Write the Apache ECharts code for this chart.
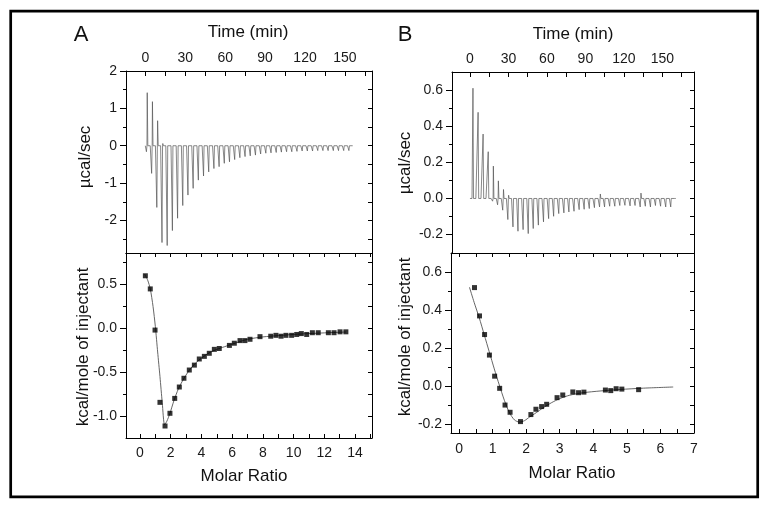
<!DOCTYPE html>
<html><head><meta charset="utf-8">
<script src="https://cdn.jsdelivr.net/npm/echarts@6/dist/echarts.min.js"></script>
<style>html,body{margin:0;padding:0;background:#fff}#c{width:768px;height:509px}</style>
</head><body><div id="c"></div>
<script>
// ---------- Panel A: raw thermogram (injection times in min, peak heights in µcal/sec) ----------
const injTimesA = [0.7, 4.6, 8.5, 12.4, 16.3, 20.2, 24.1, 28.0, 31.9, 35.8, 39.7, 43.6, 47.5, 51.4, 55.3, 59.2, 63.1, 67.0, 70.9, 74.8,
  78.7, 82.6, 86.5, 90.4, 94.3, 98.2, 102.1, 106.0, 109.9, 113.8, 117.7, 121.6, 125.5, 129.4, 133.3, 137.2, 141.1, 145.0, 148.9, 152.8];
const negPeaksA = [-0.16, -0.74, -1.65, -2.59, -2.67, -2.27, -1.94, -1.6, -1.32, -1.14, -0.92, -0.81, -0.70, -0.61, -0.56, -0.47, -0.43, -0.37, -0.32, -0.29,
  -0.27, -0.25, -0.22, -0.2, -0.19, -0.18, -0.17, -0.16, -0.16, -0.15, -0.14, -0.14, -0.14, -0.13, -0.13, -0.13, -0.13, -0.13, -0.13, -0.13];
const posPeaksA = [1.42, 1.18, 0.67, 0.06, 0, 0, 0, 0, 0, 0, 0, 0, 0, 0, 0, 0, 0, 0, 0, 0,
  0, 0, 0, 0, 0, 0, 0, 0, 0, 0, 0, 0, 0, 0, 0, 0, 0, 0, 0, 0];
const traceSpanA = [0, 156];

// ---------- Panel A: integrated heats ----------
const molarA = [0.35, 0.67, 0.98, 1.30, 1.63, 1.95, 2.26, 2.56, 2.86, 3.21, 3.54, 3.86, 4.19, 4.51, 4.84, 5.16, 5.82, 6.14, 6.51, 6.83,
  7.16, 7.81, 8.51, 8.85, 9.18, 9.50, 9.87, 10.2, 10.5, 10.85, 11.22, 11.6, 12.26, 12.63, 13.02, 13.4];
const heatA = [0.60, 0.45, -0.02, -0.845, -1.115, -0.97, -0.80, -0.67, -0.57, -0.476, -0.42, -0.35, -0.32, -0.285, -0.24, -0.23, -0.195, -0.17, -0.14, -0.14,
  -0.125, -0.095, -0.09, -0.08, -0.09, -0.08, -0.08, -0.07, -0.06, -0.07, -0.05, -0.05, -0.05, -0.05, -0.04, -0.04];
const fitAX = [0.3, 0.5, 0.67, 0.85, 1.0, 1.15, 1.3, 1.45, 1.6, 1.75, 1.95, 2.2, 2.5, 2.8, 3.2, 3.6, 4.0, 4.5, 5.0, 5.5, 6.0, 7.0, 8.0, 9.0, 10.0, 11.0, 12.0, 13.4];
const fitAY = [0.62, 0.55, 0.45, 0.25, 0.02, -0.27, -0.55, -0.85, -1.1, -1.06, -0.97, -0.83, -0.69, -0.59, -0.48, -0.40, -0.34, -0.28, -0.24, -0.21, -0.18, -0.125, -0.098, -0.083, -0.07, -0.06, -0.052, -0.042];

// ---------- Panel B: raw thermogram ----------
const injTimesB = [1.6, 5.6, 9.5, 13.5, 17.5, 21.4, 25.4, 29.4, 33.4, 37.3, 41.3, 45.3, 49.2, 53.2, 57.2, 61.2, 65.1, 69.1, 73.1, 77.0,
  81.0, 85.0, 88.9, 92.9, 96.9, 100.9, 104.8, 108.8, 112.8, 116.7, 120.7, 124.7, 128.6, 132.6, 136.6, 140.6, 144.5, 148.5, 152.5, 156.4];
const negPeaksB = [0, -0.005, -0.008, -0.01, -0.015, -0.035, -0.065, -0.117, -0.158, -0.182, -0.173, -0.195, -0.167, -0.148, -0.130, -0.112, -0.099, -0.084, -0.080, -0.075,
  -0.071, -0.062, -0.060, -0.056, -0.051, -0.047, -0.047, -0.043, -0.043, -0.039, -0.038, -0.041, -0.039, -0.047, -0.043, -0.047, -0.039, -0.043, -0.047, -0.047];
const posPeaksB = [0.613, 0.479, 0.358, 0.26, 0.18, 0.098, 0.05, 0.018, 0.01, 0, 0, 0, 0, 0, 0, 0, 0, 0, 0, 0,
  0, 0, 0, 0, 0, 0.025, 0, 0, 0, 0, 0, 0, 0, 0.03, 0, 0, 0, 0, 0, 0];
const traceSpanB = [0, 160.5];

// ---------- Panel B: integrated heats ----------
const molarB = [0.46, 0.61, 0.76, 0.905, 1.06, 1.21, 1.37, 1.52, 1.83, 2.14, 2.29, 2.46, 2.61, 2.92, 3.09, 3.39, 3.56, 3.72, 4.36, 4.52, 4.68, 4.85, 5.35];
const heatB = [0.518, 0.369, 0.271, 0.163, 0.052, -0.012, -0.10, -0.138, -0.187, -0.15, -0.122, -0.108, -0.096, -0.061, -0.047, -0.031, -0.035, -0.032, -0.021, -0.024, -0.014, -0.016, -0.019];
const fitBX = [0.31, 0.45, 0.6, 0.75, 0.9, 1.05, 1.2, 1.35, 1.5, 1.65, 1.8, 1.95, 2.1, 2.3, 2.5, 2.75, 3.0, 3.3, 3.7, 4.2, 4.8, 5.5, 6.38];
const fitBY = [0.52, 0.44, 0.36, 0.27, 0.18, 0.09, 0.005, -0.075, -0.14, -0.178, -0.19, -0.182, -0.163, -0.14, -0.115, -0.088, -0.066, -0.048, -0.035, -0.026, -0.018, -0.011, -0.005];

// ---------- tick labels ----------
const timeTicks = [0, 30, 60, 90, 120, 150];
const timeMinor = [15, 45, 75, 105, 135, 165];
const powerTicksA = [-2, -1, 0, 1, 2];
const powerMinorA = [-2.5, -1.5, -0.5, 0.5, 1.5];
const heatTicksA = [-1.0, -0.5, 0.0, 0.5];
const heatMinorA = [-0.75, -0.25, 0.25, 0.75];
const molarTicksA = [0, 2, 4, 6, 8, 10, 12, 14];
const molarMinorA = [1, 3, 5, 7, 9, 11, 13, 15];
const powerTicksB = [-0.2, 0.0, 0.2, 0.4, 0.6];
const powerMinorB = [-0.1, 0.1, 0.3, 0.5];
const heatTicksB = [-0.2, 0.0, 0.2, 0.4, 0.6];
const heatMinorB = [-0.1, 0.1, 0.3, 0.5];
const molarTicksB = [0, 1, 2, 3, 4, 5, 6, 7];
const molarMinorB = [0.5, 1.5, 2.5, 3.5, 4.5, 5.5, 6.5];

// ---------- helpers ----------
const FONT = '"Liberation Sans", Arial, Helvetica, sans-serif';
const zip = (a, b) => a.map((v, i) => [v, b[i]]);
function buildTrace(span, times, neg, pos) {
  const d = [[span[0], 0]];
  times.forEach((t, i) => {
    d.push([t, 0]);
    if (neg[i] !== 0) { d.push([t + 0.15, neg[i]]); d.push([t + 0.55, 0]); }
    if (pos[i] !== 0) { d.push([t + 0.75, pos[i]]); d.push([t + 1.2, 0]); }
    d.push([t + 3.0, 0]);
  });
  d.push([span[1], 0]);
  return d;
}
function baseAxis(gridIndex, position, min, max) {
  return {
    type: 'value', gridIndex, position, min, max,
    splitLine: { show: false }, minorTick: { show: false }, minorSplitLine: { show: false },
    axisLine: { show: true, onZero: false, lineStyle: { color: '#000', width: 1 } },
    axisTick: { show: false }, axisLabel: { show: false }
  };
}
function labeled(ax, labels, ticks, inside, len, margin, dec) {
  ax.axisLabel = {
    show: true, customValues: labels, margin, fontSize: 14, fontFamily: FONT, color: '#1a1a1a',
    formatter: v => Number(v).toFixed(dec)
  };
  ax.axisTick = { show: true, customValues: ticks, inside, length: len, lineStyle: { color: '#000', width: 1 } };
  return ax;
}
function ticksOnly(ax, ticks, inside, len, showLine) {
  ax.axisLine.show = showLine;
  ax.axisTick = { show: true, customValues: ticks, inside, length: len, lineStyle: { color: '#000', width: 1 } };
  return ax;
}

const rA = { tMin: -14.5, tMax: 170.3, pMin: -2.87, pMax: 2, mMin: -0.91, mMax: 15.1, hMin: -1.252, hMax: 0.86 };
const rB = { tMin: -14, tMax: 174.7, pMin: -0.303, pMax: 0.703, mMin: -0.24, mMax: 7.0, hMin: -0.247, hMax: 0.70 };

const xAxis = [
  labeled(baseAxis(0, 'top', rA.tMin, rA.tMax), timeTicks, timeTicks.concat(timeMinor), true, 5, 6, 0),
  baseAxis(0, 'bottom', rA.tMin, rA.tMax),
  labeled(baseAxis(1, 'bottom', rA.mMin, rA.mMax), molarTicksA, molarTicksA.concat(molarMinorA), true, 4, 8, 0),
  ticksOnly(baseAxis(1, 'top', rA.mMin, rA.mMax), molarTicksA.concat(molarMinorA), true, 4, true),
  labeled(baseAxis(2, 'top', rB.tMin, rB.tMax), timeTicks, timeTicks.concat(timeMinor), true, 5, 6, 0),
  baseAxis(2, 'bottom', rB.tMin, rB.tMax),
  labeled(baseAxis(3, 'bottom', rB.mMin, rB.mMax), molarTicksB, molarTicksB.concat(molarMinorB), true, 4, 9, 0),
  ticksOnly(baseAxis(3, 'top', rB.mMin, rB.mMax), molarTicksB.concat(molarMinorB), true, 4, true)
];
const yAxis = [
  labeled(baseAxis(0, 'left', rA.pMin, rA.pMax), powerTicksA, powerTicksA, false, 6, 9, 0),
  ticksOnly(baseAxis(0, 'left', rA.pMin, rA.pMax), powerMinorA, false, 3, false),
  ticksOnly(baseAxis(0, 'right', rA.pMin, rA.pMax), powerTicksA.concat(powerMinorA), true, 4, true),
  labeled(baseAxis(1, 'left', rA.hMin, rA.hMax), heatTicksA, heatTicksA, false, 6, 9, 1),
  ticksOnly(baseAxis(1, 'left', rA.hMin, rA.hMax), heatMinorA, false, 3, false),
  ticksOnly(baseAxis(1, 'right', rA.hMin, rA.hMax), heatTicksA.concat(heatMinorA), true, 4, true),
  labeled(baseAxis(2, 'left', rB.pMin, rB.pMax), powerTicksB, powerTicksB, false, 6, 9, 1),
  ticksOnly(baseAxis(2, 'left', rB.pMin, rB.pMax), powerMinorB, false, 3, false),
  ticksOnly(baseAxis(2, 'right', rB.pMin, rB.pMax), powerTicksB.concat(powerMinorB), true, 4, true),
  labeled(baseAxis(3, 'left', rB.hMin, rB.hMax), heatTicksB, heatTicksB, false, 6, 9, 1),
  ticksOnly(baseAxis(3, 'left', rB.hMin, rB.hMax), heatMinorB, false, 3, false),
  ticksOnly(baseAxis(3, 'right', rB.hMin, rB.hMax), heatTicksB.concat(heatMinorB), true, 4, true)
];

const traceStyle = { color: '#555', width: 0.7 };
const fitStyle = { color: '#555', width: 0.9 };
const series = [
  { type: 'line', xAxisIndex: 0, yAxisIndex: 0, data: buildTrace(traceSpanA, injTimesA, negPeaksA, posPeaksA), showSymbol: false, lineStyle: traceStyle, silent: true },
  { type: 'line', xAxisIndex: 2, yAxisIndex: 3, data: zip(fitAX, fitAY), showSymbol: false, smooth: 0.25, lineStyle: fitStyle, silent: true },
  { type: 'scatter', xAxisIndex: 2, yAxisIndex: 3, data: zip(molarA, heatA), symbol: 'rect', symbolSize: 5, itemStyle: { color: '#000' }, z: 3 },
  { type: 'line', xAxisIndex: 4, yAxisIndex: 6, data: buildTrace(traceSpanB, injTimesB, negPeaksB, posPeaksB), showSymbol: false, lineStyle: traceStyle, silent: true },
  { type: 'line', xAxisIndex: 6, yAxisIndex: 9, data: zip(fitBX, fitBY), showSymbol: false, smooth: 0.25, lineStyle: fitStyle, silent: true },
  { type: 'scatter', xAxisIndex: 6, yAxisIndex: 9, data: zip(molarB, heatB), symbol: 'rect', symbolSize: 5, itemStyle: { color: '#000' }, z: 3 }
];

function txt(text, x, y, size, rot) {
  return { type: 'text', x, y, rotation: rot ? Math.PI / 2 : 0, silent: true,
    style: { text, x: 0, y: 0, font: size + 'px ' + FONT, fill: '#111', textAlign: 'center', textVerticalAlign: 'middle', align: 'center', verticalAlign: 'middle' } };
}
const graphic = [
  { type: 'rect', shape: { x: 10.7, y: 11.2, width: 747, height: 485.6 }, style: { fill: 'none', stroke: '#000', lineWidth: 2.7 }, silent: true },
  txt('A', 81, 35, 22), txt('B', 405, 35, 22),
  txt('Time (min)', 248, 32, 17), txt('Time (min)', 573, 34, 17),
  txt('µcal/sec', 85, 157, 17, true), txt('µcal/sec', 405, 163, 17, true),
  txt('kcal/mole of injectant', 83, 347, 17, true), txt('kcal/mole of injectant', 405, 337, 17, true),
  txt('Molar Ratio', 244, 476, 17), txt('Molar Ratio', 572, 473, 17)
];

const chart = echarts.init(document.getElementById('c'), null, { renderer: 'canvas' });
chart.setOption({
  animation: false,
  backgroundColor: '#fff',
  grid: [
    { left: 126, top: 71, width: 246, height: 182, containLabel: false, outerBoundsMode: 'none' },
    { left: 126, top: 253, width: 246, height: 185, containLabel: false, outerBoundsMode: 'none' },
    { left: 452, top: 72, width: 242, height: 181, containLabel: false, outerBoundsMode: 'none' },
    { left: 451, top: 253, width: 243, height: 180, containLabel: false, outerBoundsMode: 'none' }
  ],
  xAxis, yAxis, series, graphic
});
</script></body></html>
